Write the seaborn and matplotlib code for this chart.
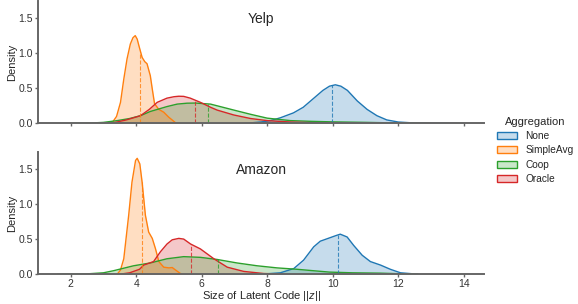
import matplotlib
matplotlib.use("Agg")
import matplotlib.pyplot as plt
import seaborn as sns
import pandas as pd
from matplotlib.patches import Patch

# Aggregation methods, in hue order
methods = ["None", "SimpleAvg", "Coop", "Oracle"]
colors = ["#1f77b4", "#ff7f0e", "#2ca02c", "#d62728"]
panels = ["Yelp", "Amazon"]

# density curves (x = ||z||, y = density)
yelp_none_x = [7.3, 7.8, 8.1, 8.4, 8.8, 9.1, 9.4, 9.7, 9.9, 10.08, 10.25, 10.45, 10.75, 11.05, 11.35, 11.65, 12.0, 12.5, 13.2, 14.0]
yelp_none_y = [0.0, 0.02, 0.04, 0.08, 0.15, 0.23, 0.35, 0.47, 0.53, 0.55, 0.53, 0.47, 0.32, 0.20, 0.11, 0.05, 0.02, 0.006, 0.002, 0.0]
yelp_simple_x = [3.25, 3.4, 3.52, 3.62, 3.72, 3.82, 3.9, 3.97, 4.03, 4.08, 4.18, 4.26, 4.33, 4.43, 4.49, 4.56, 4.69, 4.84, 4.99, 5.2, 5.35]
yelp_simple_y = [0.0, 0.1, 0.30, 0.63, 0.92, 1.13, 1.22, 1.25, 1.20, 1.11, 0.94, 0.88, 0.85, 0.68, 0.49, 0.28, 0.20, 0.16, 0.09, 0.01, 0.0]
yelp_coop_x = [2.0, 2.6, 3.0, 3.42, 3.8, 4.13, 4.43, 4.94, 5.25, 5.55, 5.81, 6.27, 6.98, 7.49, 8.0, 8.71, 9.32, 10.0, 11.0, 12.0, 13.0]
yelp_coop_y = [0.0, 0.005, 0.015, 0.04, 0.07, 0.11, 0.17, 0.24, 0.275, 0.288, 0.29, 0.275, 0.19, 0.13, 0.075, 0.04, 0.03, 0.022, 0.015, 0.006, 0.0]
yelp_oracle_x = [3.0, 3.31, 3.7, 4.13, 4.4, 4.64, 4.94, 5.15, 5.3, 5.45, 5.65, 5.96, 6.27, 6.47, 6.98, 7.49, 8.0, 8.71, 9.5, 10.3]
yelp_oracle_y = [0.0, 0.01, 0.05, 0.11, 0.20, 0.30, 0.36, 0.38, 0.387, 0.385, 0.36, 0.30, 0.23, 0.19, 0.12, 0.07, 0.04, 0.02, 0.008, 0.0]

amazon_none_x = [7.8, 8.4, 8.81, 9.11, 9.42, 9.62, 9.92, 10.1, 10.23, 10.44, 10.64, 10.9, 11.15, 11.46, 11.76, 12.07, 12.6]
amazon_none_y = [0.0, 0.02, 0.08, 0.20, 0.39, 0.47, 0.52, 0.55, 0.57, 0.53, 0.41, 0.27, 0.18, 0.13, 0.07, 0.02, 0.0]
amazon_simple_x = [3.42, 3.52, 3.62, 3.77, 3.87, 3.98, 4.03, 4.11, 4.18, 4.28, 4.38, 4.49, 4.59, 4.69, 4.84, 5.0, 5.1, 5.2, 5.35, 5.45]
amazon_simple_y = [0.0, 0.06, 0.22, 0.84, 1.31, 1.62, 1.65, 1.57, 1.31, 0.84, 0.60, 0.51, 0.36, 0.18, 0.10, 0.09, 0.095, 0.06, 0.01, 0.0]
amazon_coop_x = [1.6, 2.5, 3.0, 3.31, 3.92, 4.43, 4.94, 5.45, 5.96, 6.47, 7.08, 7.69, 8.3, 8.91, 9.4, 9.9, 10.6, 11.45, 12.2, 12.6]
amazon_coop_y = [0.0, 0.005, 0.02, 0.05, 0.12, 0.16, 0.22, 0.25, 0.24, 0.21, 0.16, 0.12, 0.09, 0.07, 0.05, 0.03, 0.02, 0.015, 0.005, 0.0]
amazon_oracle_x = [3.5, 3.8, 4.1, 4.23, 4.53, 4.74, 4.94, 5.1, 5.3, 5.45, 5.66, 5.96, 6.37, 6.78, 7.28, 7.89, 8.6]
amazon_oracle_y = [0.0, 0.02, 0.07, 0.13, 0.18, 0.32, 0.43, 0.49, 0.51, 0.50, 0.43, 0.36, 0.22, 0.10, 0.04, 0.01, 0.0]

# mean ||z|| per method (dashed lines) and the density at that point
yelp_means = [9.98, 4.11, 6.18, 5.79]
yelp_mean_heights = [0.54, 1.02, 0.28, 0.33]
amazon_means = [10.15, 4.18, 6.49, 5.67]
amazon_mean_heights = [0.56, 1.31, 0.21, 0.43]

curves = {
    "Yelp": [(yelp_none_x, yelp_none_y), (yelp_simple_x, yelp_simple_y),
             (yelp_coop_x, yelp_coop_y), (yelp_oracle_x, yelp_oracle_y)],
    "Amazon": [(amazon_none_x, amazon_none_y), (amazon_simple_x, amazon_simple_y),
               (amazon_coop_x, amazon_coop_y), (amazon_oracle_x, amazon_oracle_y)],
}
means = {"Yelp": (yelp_means, yelp_mean_heights), "Amazon": (amazon_means, amazon_mean_heights)}

sns.set_theme(style="ticks")
plt.rcParams["font.family"] = ["Liberation Sans", "DejaVu Sans"]
plt.rcParams["mathtext.fontset"] = "custom"
plt.rcParams["mathtext.it"] = "Liberation Sans:italic"
plt.rcParams["mathtext.rm"] = "Liberation Sans"
plt.rcParams["axes.edgecolor"] = "0.4"
plt.rcParams["xtick.color"] = "0.4"
plt.rcParams["ytick.color"] = "0.4"
plt.rcParams["xtick.labelcolor"] = "0.2"
plt.rcParams["ytick.labelcolor"] = "0.2"

fig = plt.figure(figsize=(5.78, 3.04), dpi=100)
ax_top = fig.add_axes([0.0657, 0.594, 0.7717, 0.402])
ax_bot = fig.add_axes([0.0657, 0.098, 0.7717, 0.402], sharex=ax_top, sharey=ax_top)
palette = dict(zip(methods, colors))

for ax, name in zip([ax_top, ax_bot], panels):
    rows = []
    for m, (xs, ys) in zip(methods, curves[name]):
        for x, y in zip(xs, ys):
            rows.append({"z": x, "density": y, "Aggregation": m})
    df = pd.DataFrame(rows)

    # fills, drawn in reverse so "None" ends up on top (like kdeplot)
    for m in methods[::-1]:
        sub = df[df["Aggregation"] == m]
        ax.fill_between(sub["z"], 0, sub["density"], color=palette[m], alpha=0.25, lw=0)
    sns.lineplot(data=df, x="z", y="density", hue="Aggregation", hue_order=methods,
                 palette=palette, estimator=None, sort=False, legend=False,
                 linewidth=1.0, ax=ax)

    mx, mh = means[name]
    for m, x, h in zip(methods, mx, mh):
        ax.vlines(x, 0, h, colors=palette[m], linestyles="--", linewidth=0.8, alpha=0.8)

    ax.text(0.5, 0.855, name, transform=ax.transAxes, ha="center", va="center",
            fontsize=10, color="0.15")
    ax.set_ylabel("Density", fontsize=8, color="0.15")
    ax.yaxis.set_label_coords(-0.047, 0.5)
    ax.tick_params(labelsize=7.5, width=1.0, length=2.5, pad=1.0)
    for sp in ["left", "bottom"]:
        ax.spines[sp].set_linewidth(1.4)
    sns.despine(ax=ax)

ax_top.set_xlim(1.0, 14.62)
ax_top.set_ylim(0, 1.74)
ax_top.set_xticks([2, 4, 6, 8, 10, 12, 14])
ax_top.set_yticks([0.0, 0.5, 1.0, 1.5])
ax_top.tick_params(labelbottom=False)
ax_top.set_xlabel("")
ax_bot.set_xlabel(r"Size of Latent Code $||z||$", fontsize=8, color="0.15")
ax_bot.xaxis.set_label_coords(0.5, -0.125)

handles = [Patch(facecolor=matplotlib.colors.to_rgba(c, 0.25), edgecolor=c, linewidth=1.0) for c in colors]
leg = fig.legend(handles, methods, title="Aggregation", loc="center left",
                 bbox_to_anchor=(0.853, 0.505), frameon=False, fontsize=7.3,
                 title_fontsize=8, borderaxespad=0, handletextpad=0.8, labelspacing=0.42)

fig.savefig("out.png", dpi=100)
